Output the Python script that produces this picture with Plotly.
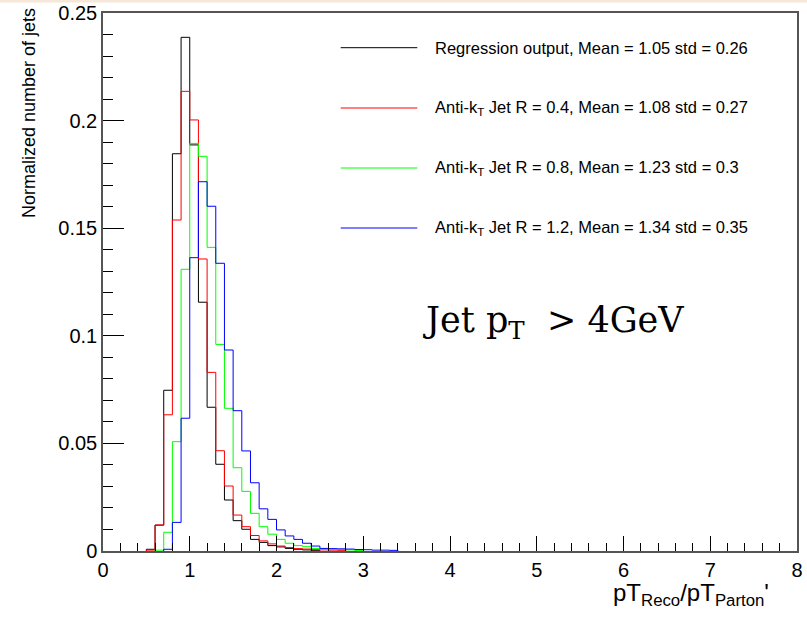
import numpy as np
import plotly.graph_objects as go

# ---------------- data ----------------
bin_width = 0.1

reg_start = 0.5
reg_vals = [0.0008, 0.0120, 0.0747, 0.1846, 0.2387, 0.1887, 0.1156, 0.0668, 0.0403, 0.0237,
            0.0141, 0.0101, 0.0054, 0.0040, 0.0025, 0.0019, 0.0012, 0.0008, 0.0005, 0.0003]

r04_start = 0.5
r04_vals = [0.0004, 0.0121, 0.0633, 0.1538, 0.2136, 0.2003, 0.1357, 0.0830, 0.0466, 0.0302,
            0.0167, 0.0113, 0.0072, 0.0047, 0.0033, 0.0023, 0.0016, 0.0011, 0.0009, 0.0006,
            0.0005, 0.0004, 0.0003]

r08_start = 0.6
r08_vals = [0.0004, 0.0087, 0.0508, 0.1309, 0.1894, 0.1834, 0.1411, 0.0960, 0.0663, 0.0387,
            0.0277, 0.0175, 0.0113, 0.0078, 0.0054, 0.0036, 0.0025, 0.0020, 0.0012, 0.0009,
            0.0008, 0.0008, 0.0005, 0.0002]

r12_start = 0.7
r12_vals = [0.0008, 0.0133, 0.0617, 0.1363, 0.1716, 0.1602, 0.1337, 0.0934, 0.0652, 0.0465,
            0.0317, 0.0196, 0.0147, 0.0098, 0.0070, 0.0054, 0.0036, 0.0023, 0.0012, 0.0011,
            0.0010, 0.0009, 0.0007, 0.0006, 0.0004, 0.0004, 0.0003]

series_names = [
    "Regression output, Mean = 1.05 std = 0.26",
    "Anti-k<sub>T</sub> Jet R = 0.4, Mean = 1.08 std = 0.27",
    "Anti-k<sub>T</sub> Jet R = 0.8, Mean = 1.23 std = 0.3",
    "Anti-k<sub>T</sub> Jet R = 1.2, Mean = 1.34 std = 0.35",
]
series_colors = ["#000000", "#ff0000", "#00ff00", "#0000ff"]
series_starts = [reg_start, r04_start, r08_start, r12_start]
series_vals = [reg_vals, r04_vals, r08_vals, r12_vals]

x_ticks = [0, 1, 2, 3, 4, 5, 6, 7, 8]
y_ticks = [0, 0.05, 0.1, 0.15, 0.2, 0.25]

# ---------------- figure ----------------
fig = go.Figure()

for name, col, start, vals in zip(series_names, series_colors, series_starts, series_vals):
    n = len(vals)
    edges = np.round(start + bin_width * np.arange(n + 1), 3)
    xs = [edges[0]] + list(edges)
    ys = [0] + list(vals) + [0]
    fig.add_trace(go.Scatter(x=xs, y=ys, mode="lines", line=dict(color=col, width=1, shape="hv"),
                             name=name, showlegend=False, hoverinfo="skip"))

font_sans = "Liberation Sans, Arial, Helvetica, sans-serif"

fig.update_layout(
    width=807, height=620,
    margin=dict(l=103, r=10, t=13, b=69, autoexpand=False),
    paper_bgcolor="white", plot_bgcolor="white",
    font=dict(family=font_sans, color="black", size=20),
    xaxis=dict(range=[0, 8], tickvals=x_ticks, ticks="inside", ticklen=15, tickwidth=1,
               tickcolor="black", showgrid=False, zeroline=False, showline=True,
               linecolor="#555", linewidth=1.5, mirror=True, automargin=False,
               tickfont=dict(size=20, family=font_sans),
               minor=dict(dtick=0.2, ticks="inside", ticklen=8, tickcolor="black", tickwidth=1)),
    yaxis=dict(range=[0, 0.25], tickvals=y_ticks, ticks="inside", ticklen=21, tickwidth=1,
               tickcolor="black", showgrid=False, zeroline=False, showline=True,
               linecolor="#555", linewidth=1.5, mirror=True, automargin=False,
               tickfont=dict(size=20, family=font_sans),
               minor=dict(dtick=0.01, ticks="inside", ticklen=10, tickcolor="black", tickwidth=1)),
)

# plot-area geometry in pixels (for placing paper-referenced items)
L, R, T, B = 103, 797, 13, 551
W, H = R - L, B - T


def px(x):
    return (x - L) / W


def py(y):
    return (B - y) / H


# thin peach band at top of the image
fig.add_shape(type="rect", xref="paper", yref="paper", x0=px(0), x1=px(807), y0=py(2.5), y1=py(0),
              fillcolor="#f6e7d9", line=dict(width=0), layer="above")

# manual legend
leg_y = [47.7, 108.0, 168.0, 228.0]
for name, col, yy in zip(series_names, series_colors, leg_y):
    fig.add_shape(type="line", xref="paper", yref="paper", x0=px(340.7), x1=px(417.3),
                  y0=py(yy), y1=py(yy), line=dict(color=col, width=1))
    fig.add_annotation(text=name, xref="paper", yref="paper", x=px(433), y=py(yy),
                       xanchor="left", yanchor="middle", showarrow=False,
                       font=dict(size=16.5, family=font_sans, color="black"))

# y-axis title
fig.add_annotation(text="Normalized number of jets", xref="paper", yref="paper",
                   x=px(29), y=py(113), textangle=-90, showarrow=False,
                   xanchor="center", yanchor="middle",
                   font=dict(size=18, family=font_sans, color="black"))

# x-axis title
fig.add_annotation(text="pT<sub>Reco</sub>/pT<sub>Parton</sub>'", xref="paper", yref="paper",
                   x=px(771), y=py(594), xanchor="right", yanchor="middle", showarrow=False,
                   font=dict(size=24, family=font_sans, color="black"))

# big label
fig.add_annotation(text="Jet p<sub>T</sub>&nbsp;&nbsp;&gt;&nbsp;4GeV", xref="paper", yref="paper",
                   x=px(553), y=py(322), xanchor="center", yanchor="middle", showarrow=False,
                   font=dict(size=35, family="DejaVu Serif, Liberation Serif, serif", color="black"))

fig.write_html("out.html")
